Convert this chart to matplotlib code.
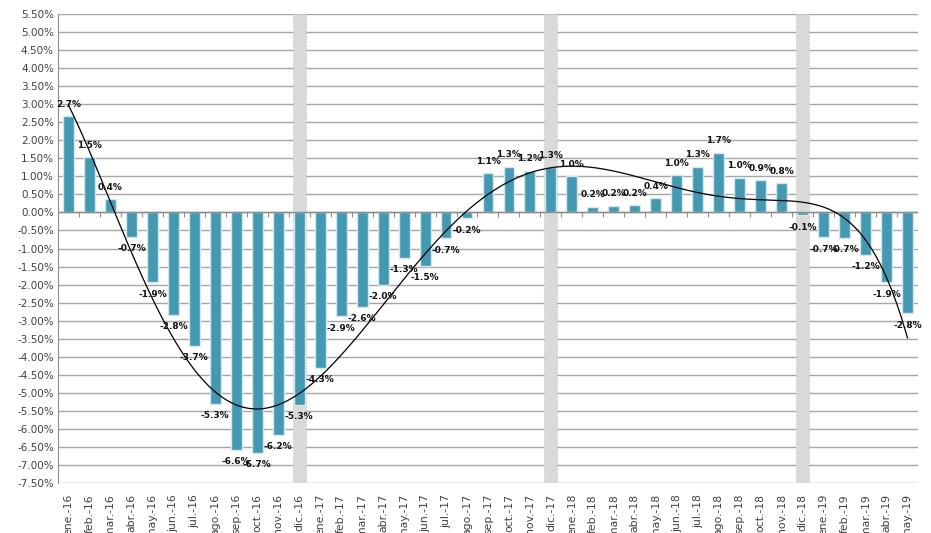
import numpy as np
import matplotlib.pyplot as plt
from matplotlib.ticker import FuncFormatter, MultipleLocator

# monthly variation (%)
months = ["ene.-16", "feb.-16", "mar.-16", "abr.-16", "may.-16", "jun.-16",
          "jul.-16", "ago.-16", "sep.-16", "oct.-16", "nov.-16", "dic.-16",
          "ene.-17", "feb.-17", "mar.-17", "abr.-17", "may.-17", "jun.-17",
          "jul.-17", "ago.-17", "sep.-17", "oct.-17", "nov.-17", "dic.-17",
          "ene.-18", "feb.-18", "mar.-18", "abr.-18", "may.-18", "jun.-18",
          "jul.-18", "ago.-18", "sep.-18", "oct.-18", "nov.-18", "dic.-18",
          "ene.-19", "feb.-19", "mar.-19", "abr.-19", "may.-19"]
values = [2.66, 1.54, 0.36, -0.67, -1.94, -2.83, -3.69, -5.31, -6.58, -6.66,
          -6.17, -5.33, -4.31, -2.88, -2.61, -2.00, -1.26, -1.49, -0.72, -0.16,
          1.08, 1.27, 1.16, 1.26, 1.00, 0.16, 0.19, 0.20, 0.39, 1.03,
          1.27, 1.66, 0.96, 0.90, 0.81, -0.08, -0.69, -0.70, -1.17, -1.94,
          -2.80]
# december markers (grey full-height columns)
december = ["dic.-16", "dic.-17", "dic.-18"]

YMIN, YMAX = -7.5, 5.5
BAR = "#4499b2"

x = np.arange(len(months))
vals = np.array(values)

fig = plt.figure(figsize=(9.31, 5.33), dpi=100)
ax = fig.add_axes([0.0623, 0.0938, 0.9237, 0.8799])

# grey december columns behind everything
dec_idx = [months.index(m) for m in december]
ax.bar(dec_idx, [YMAX - YMIN] * len(dec_idx), bottom=YMIN, width=0.62,
       color="#d9d9d9", edgecolor="#c8c8c8", linestyle=":", lw=0.8, zorder=1)

ax.bar(x, vals, width=0.52, color=BAR, edgecolor="#d6e6ec", lw=1.0, zorder=3)

# polynomial trend line (order 6), as in the original spreadsheet
coef = np.polyfit(x, vals, 6)
xs = np.linspace(x[0], x[-1], 400)
ax.plot(xs, np.polyval(coef, xs), color="black", lw=0.9, zorder=5)

for xi, v in zip(x, vals):
    off = 8.5 if v >= 0 else -8.5
    ax.annotate(f"{v:.1f}%", (xi, v), xytext=(0, off), textcoords="offset points",
                ha="center", va="center", fontsize=6.5, fontweight="bold",
                color="#111111", zorder=6)

# zero line with category tick marks
ax.axhline(0, color="#8c8c8c", lw=1.0, zorder=4)
ax.vlines(np.arange(len(months) + 1) - 0.5, -0.12, 0, color="#8c8c8c", lw=0.8, zorder=4)

ax.set_xlim(-0.5, len(months) - 0.5)
ax.set_ylim(YMIN, YMAX)
ax.yaxis.set_major_locator(MultipleLocator(0.5))
ax.yaxis.set_major_formatter(FuncFormatter(lambda v, p: f"{v:.2f}%"))
ax.grid(axis="y", color="#a6a6a6", lw=1.0, zorder=0)
ax.set_axisbelow(True)

ax.set_xticks(x)
ax.set_xticklabels(months, rotation=90, fontsize=7.8, color="#404040")
ax.tick_params(axis="x", length=0, pad=8)
ax.tick_params(axis="y", length=0, labelsize=7.5, labelcolor="#404040", pad=3)

for s in ["top", "right", "bottom"]:
    ax.spines[s].set_visible(False)
ax.spines["left"].set_color("#8c8c8c")

fig.savefig("out.png", dpi=100)
